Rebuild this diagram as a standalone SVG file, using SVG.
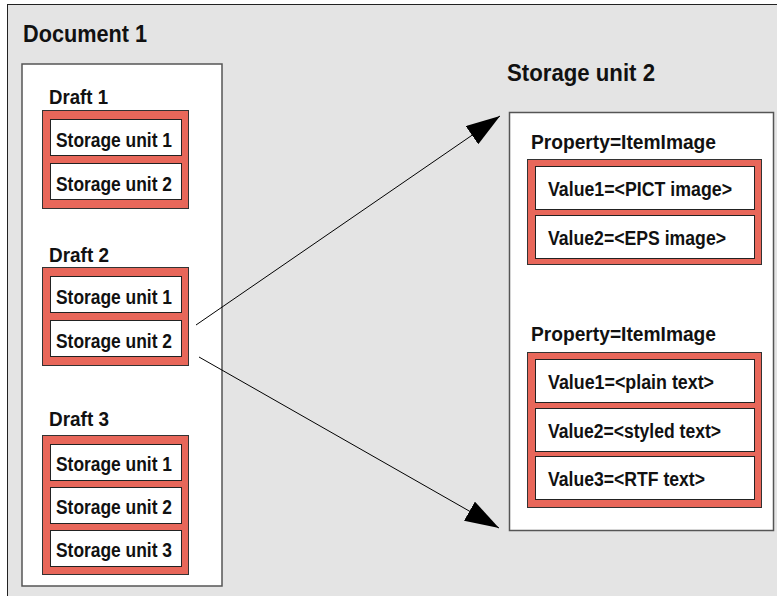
<svg xmlns="http://www.w3.org/2000/svg" width="777" height="596" viewBox="0 0 777 596">
<defs>
<style>
text{font-family:"Liberation Sans",Arial,sans-serif;font-weight:bold;fill:#111;}
.title{font-size:24.5px;}
.draft{font-size:21px;}
.su{font-size:20px;}
.prop{font-size:21px;}
.val{font-size:19.5px;}
.panel{fill:#fff;stroke:#555;stroke-width:1.5;}
.red{fill:#E8675A;stroke:#333;stroke-width:1;}
.cell{fill:#fff;stroke:#222;stroke-width:1;}
.conn{stroke:#000;stroke-width:1;fill:none;marker-end:url(#ah);}
</style>
<marker id="ah" viewBox="0 0 34 22" refX="34" refY="11" markerWidth="34" markerHeight="22" markerUnits="userSpaceOnUse" orient="auto">
<path d="M0,0 L34,11 L0,22 Z" fill="#000"/>
</marker>
</defs>
<rect x="7.5" y="4.5" width="790" height="610" fill="#E4E4E4" stroke="#222" stroke-width="1"/>
<g id="document1">
<text class="title" x="23" y="42" textLength="124" lengthAdjust="spacingAndGlyphs">Document 1</text>
<rect class="panel" x="22" y="64" width="200" height="522"/>
</g>
<g id="draft1">
<text class="draft" x="49" y="104" textLength="59" lengthAdjust="spacingAndGlyphs">Draft 1</text>
<rect class="red" x="42.5" y="110.5" width="146" height="98"/>
<rect class="cell" x="50.5" y="119.5" width="131" height="36"/>
<rect class="cell" x="50.5" y="163.5" width="131" height="36"/>
<text class="su" x="56" y="146.5" textLength="116" lengthAdjust="spacingAndGlyphs">Storage unit 1</text>
<text class="su" x="56" y="190.5" textLength="116" lengthAdjust="spacingAndGlyphs">Storage unit 2</text>
</g>
<g id="draft2">
<text class="draft" x="49" y="262" textLength="60" lengthAdjust="spacingAndGlyphs">Draft 2</text>
<rect class="red" x="42.5" y="267.5" width="146" height="98"/>
<rect class="cell" x="50.5" y="276.5" width="131" height="36"/>
<rect class="cell" x="50.5" y="320.5" width="131" height="36"/>
<text class="su" x="56" y="303.5" textLength="116" lengthAdjust="spacingAndGlyphs">Storage unit 1</text>
<text class="su" x="56" y="347.5" textLength="116" lengthAdjust="spacingAndGlyphs">Storage unit 2</text>
</g>
<g id="draft3">
<text class="draft" x="49" y="426" textLength="60" lengthAdjust="spacingAndGlyphs">Draft 3</text>
<rect class="red" x="42.5" y="435.5" width="146" height="139"/>
<rect class="cell" x="50.5" y="444.5" width="131" height="36"/>
<rect class="cell" x="50.5" y="487.5" width="131" height="36"/>
<rect class="cell" x="50.5" y="530.5" width="131" height="36"/>
<text class="su" x="56" y="470.5" textLength="116" lengthAdjust="spacingAndGlyphs">Storage unit 1</text>
<text class="su" x="56" y="513.5" textLength="116" lengthAdjust="spacingAndGlyphs">Storage unit 2</text>
<text class="su" x="56" y="556.5" textLength="116" lengthAdjust="spacingAndGlyphs">Storage unit 3</text>
</g>
<g id="storageunit2">
<text class="title" x="507" y="81" textLength="148" lengthAdjust="spacingAndGlyphs">Storage unit 2</text>
<rect class="panel" x="509.5" y="112.5" width="264" height="418"/>
</g>
<g id="property1">
<text class="prop" x="531" y="149" textLength="185" lengthAdjust="spacingAndGlyphs">Property=ItemImage</text>
<rect class="red" x="527.5" y="159.5" width="234" height="105"/>
<rect class="cell" x="535.5" y="166.5" width="219" height="43"/>
<rect class="cell" x="535.5" y="215.5" width="219" height="43"/>
<text class="val" x="548" y="195.5" textLength="184" lengthAdjust="spacingAndGlyphs">Value1=&lt;PICT image&gt;</text>
<text class="val" x="548" y="244.5" textLength="178" lengthAdjust="spacingAndGlyphs">Value2=&lt;EPS image&gt;</text>
</g>
<g id="property2">
<text class="prop" x="531" y="341" textLength="185" lengthAdjust="spacingAndGlyphs">Property=ItemImage</text>
<rect class="red" x="527.5" y="352.5" width="234" height="155"/>
<rect class="cell" x="535.5" y="359.5" width="219" height="43"/>
<rect class="cell" x="535.5" y="408.5" width="219" height="43"/>
<rect class="cell" x="535.5" y="456.5" width="219" height="43"/>
<text class="val" x="548" y="388.5" textLength="166" lengthAdjust="spacingAndGlyphs">Value1=&lt;plain text&gt;</text>
<text class="val" x="548" y="437.5" textLength="173" lengthAdjust="spacingAndGlyphs">Value2=&lt;styled text&gt;</text>
<text class="val" x="548" y="485.5" textLength="157" lengthAdjust="spacingAndGlyphs">Value3=&lt;RTF text&gt;</text>
</g>
<g id="connectors">
<line class="conn" x1="196" y1="325" x2="500" y2="116"/>
<line class="conn" x1="199" y1="357" x2="499" y2="528"/>
</g>
</svg>
